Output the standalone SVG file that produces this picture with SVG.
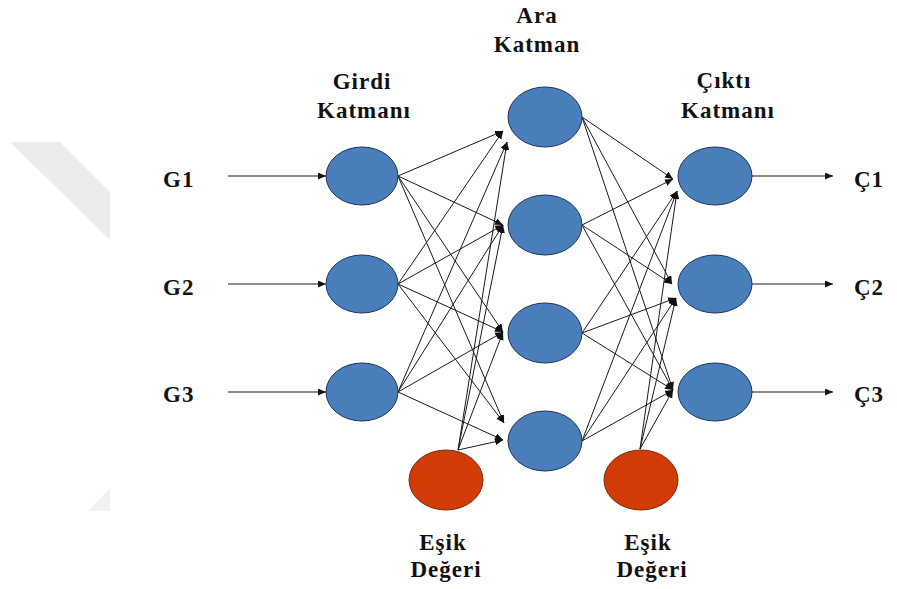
<svg xmlns="http://www.w3.org/2000/svg" width="897" height="589" viewBox="0 0 897 589">
  <style>
    text { font-family: "Liberation Serif", "DejaVu Serif", serif; font-weight: bold; font-size: 23px; letter-spacing: 1px; fill: #111; }
    .mid { text-anchor: middle; }
    .neuron { fill: #4a7ebb; stroke: #1e3658; stroke-width: 1; }
    .bias { fill: #d13b06; stroke: #7a2a10; stroke-width: 1; }
    .wire { stroke: #1a1a1a; stroke-width: 1; fill: none; marker-end: url(#head); }
    .io { stroke: #1a1a1a; stroke-width: 1.2; fill: none; marker-end: url(#head); }
  </style>
  <defs>
    <marker id="head" markerUnits="userSpaceOnUse" markerWidth="9" markerHeight="8" refX="8" refY="3.5" orient="auto">
      <path d="M0,0 L8,3.5 L0,7 Z" fill="#111"/>
    </marker>
  </defs>

  <rect width="897" height="589" fill="#ffffff"/>

  <!-- faint background band on the left -->
  <polygon points="10,142 60,142 110,192 110,240" fill="#ececec"/>
  <polygon points="88,511 110,488 110,511" fill="#f1f1f1"/>

  <!-- layer titles -->
  <g id="titles">
    <text class="mid" x="362" y="89" font-family="Liberation Serif, serif">Girdi</text>
    <text class="mid" x="364" y="118" font-family="Liberation Serif, serif">Katmanı</text>
    <text class="mid" x="537" y="23" font-family="Liberation Serif, serif">Ara</text>
    <text class="mid" x="537" y="52" font-family="Liberation Serif, serif">Katman</text>
    <text class="mid" x="724" y="88" font-family="Liberation Serif, serif">Çıktı</text>
    <text class="mid" x="728" y="118" font-family="Liberation Serif, serif">Katmanı</text>
  </g>

  <!-- connectors -->
  <g id="connectors">
    <!-- external inputs -->
    <line class="io" x1="228" y1="176" x2="326" y2="176"/>
    <line class="io" x1="228" y1="284" x2="326" y2="284"/>
    <line class="io" x1="228" y1="392" x2="326" y2="392"/>
    <!-- input layer to hidden layer -->
    <line class="wire" x1="398" y1="176" x2="503" y2="131"/>
    <line class="wire" x1="398" y1="176" x2="503" y2="225"/>
    <line class="wire" x1="398" y1="176" x2="503" y2="332"/>
    <line class="wire" x1="398" y1="176" x2="504" y2="423"/>
    <line class="wire" x1="398" y1="284" x2="503" y2="131"/>
    <line class="wire" x1="398" y1="284" x2="503" y2="225"/>
    <line class="wire" x1="398" y1="284" x2="503" y2="332"/>
    <line class="wire" x1="398" y1="284" x2="504" y2="423"/>
    <line class="wire" x1="398" y1="392" x2="507" y2="142"/>
    <line class="wire" x1="398" y1="392" x2="503" y2="225"/>
    <line class="wire" x1="398" y1="392" x2="503" y2="332"/>
    <line class="wire" x1="398" y1="392" x2="503" y2="440"/>
    <!-- first threshold to hidden layer -->
    <line class="wire" x1="458" y1="450" x2="507" y2="142"/>
    <line class="wire" x1="458" y1="450" x2="503" y2="225"/>
    <line class="wire" x1="458" y1="450" x2="503" y2="332"/>
    <line class="wire" x1="458" y1="450" x2="503" y2="440"/>
    <!-- hidden layer to output layer -->
    <line class="wire" x1="582" y1="117" x2="673" y2="179"/>
    <line class="wire" x1="582" y1="117" x2="672" y2="284"/>
    <line class="wire" x1="582" y1="117" x2="673" y2="390"/>
    <line class="wire" x1="582" y1="225" x2="673" y2="179"/>
    <line class="wire" x1="582" y1="225" x2="672" y2="284"/>
    <line class="wire" x1="582" y1="225" x2="673" y2="390"/>
    <line class="wire" x1="582" y1="333" x2="677" y2="191"/>
    <line class="wire" x1="582" y1="333" x2="676" y2="298"/>
    <line class="wire" x1="582" y1="333" x2="673" y2="390"/>
    <line class="wire" x1="582" y1="441" x2="677" y2="191"/>
    <line class="wire" x1="582" y1="441" x2="676" y2="298"/>
    <line class="wire" x1="582" y1="441" x2="673" y2="390"/>
    <!-- second threshold to output layer -->
    <line class="wire" x1="640" y1="449" x2="677" y2="191"/>
    <line class="wire" x1="640" y1="449" x2="676" y2="298"/>
    <line class="wire" x1="640" y1="449" x2="673" y2="390"/>
    <!-- external outputs -->
    <line class="io" x1="752" y1="176" x2="833" y2="176"/>
    <line class="io" x1="752" y1="284" x2="833" y2="284"/>
    <line class="io" x1="752" y1="392" x2="833" y2="392"/>
  </g>

  <!-- input labels -->
  <g id="g1-label"><text x="163" y="187">G1</text></g>
  <g id="g2-label"><text x="163" y="295">G2</text></g>
  <g id="g3-label"><text x="163" y="402">G3</text></g>

  <!-- input layer -->
  <g id="in1"><ellipse class="neuron" cx="362" cy="176" rx="36" ry="29"/></g>
  <g id="in2"><ellipse class="neuron" cx="362" cy="284" rx="36" ry="29"/></g>
  <g id="in3"><ellipse class="neuron" cx="362" cy="392" rx="36" ry="29"/></g>

  <!-- hidden layer -->
  <g id="hid1"><ellipse class="neuron" cx="545" cy="117" rx="37" ry="30"/></g>
  <g id="hid2"><ellipse class="neuron" cx="545" cy="225" rx="37" ry="30"/></g>
  <g id="hid3"><ellipse class="neuron" cx="545" cy="333" rx="37" ry="30"/></g>
  <g id="hid4"><ellipse class="neuron" cx="545" cy="441" rx="37" ry="30"/></g>

  <!-- output layer -->
  <g id="out1"><ellipse class="neuron" cx="715" cy="176" rx="37" ry="29"/></g>
  <g id="out2"><ellipse class="neuron" cx="715" cy="284" rx="37" ry="29"/></g>
  <g id="out3"><ellipse class="neuron" cx="715" cy="392" rx="37" ry="29"/></g>

  <!-- threshold units -->
  <g id="bias1">
    <ellipse class="bias" cx="446" cy="480" rx="37" ry="30"/>
    <text class="mid" x="443" y="550">Eşik</text>
    <text class="mid" x="446" y="577">Değeri</text>
  </g>
  <g id="bias2">
    <ellipse class="bias" cx="641" cy="480" rx="37" ry="30"/>
    <text class="mid" x="648" y="550">Eşik</text>
    <text class="mid" x="652" y="577">Değeri</text>
  </g>

  <!-- output labels -->
  <g id="c1-label"><text x="854" y="187">Ç1</text></g>
  <g id="c2-label"><text x="854" y="295">Ç2</text></g>
  <g id="c3-label"><text x="854" y="402">Ç3</text></g>
</svg>
